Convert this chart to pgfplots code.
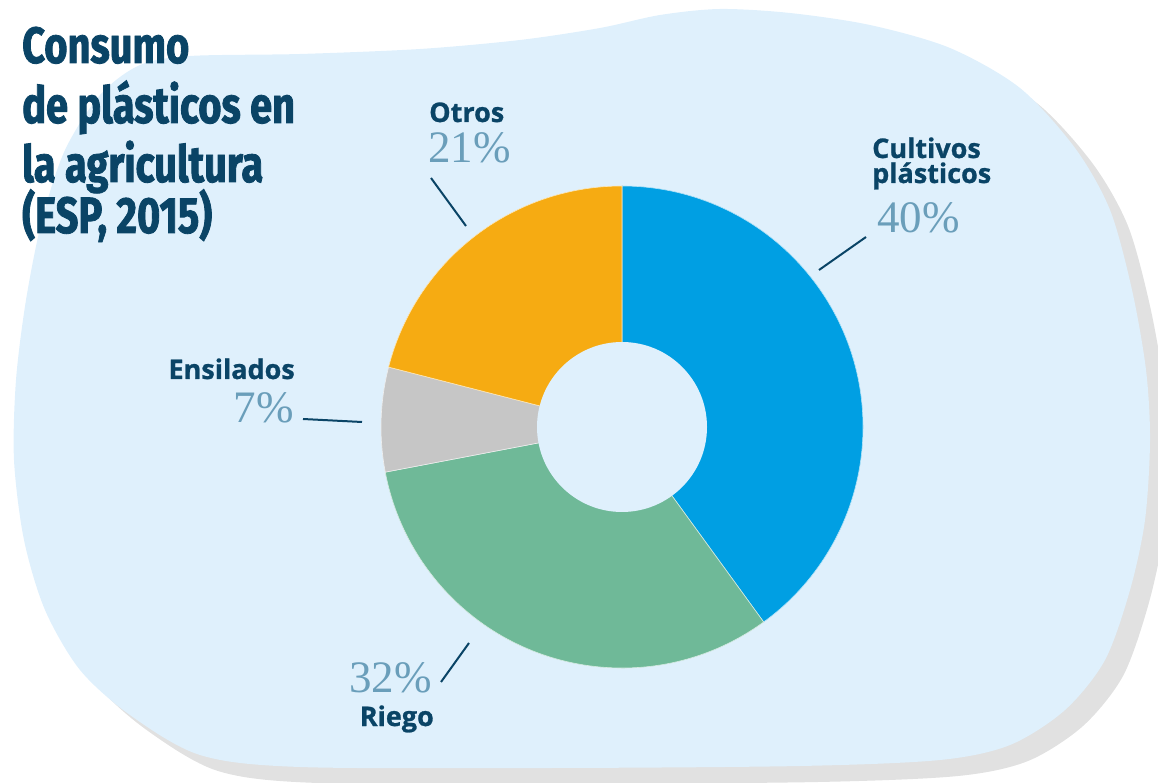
\documentclass[border=0pt]{standalone}
\usepackage{pgfplots}
\pgfplotsset{compat=1.18}
\usepackage{pgfplotstable}
\usepackage{fontspec}
\usetikzlibrary{calc}
\newfontfamily\titlefont[FakeStretch=0.78, FakeBold=1.6]{Fira Sans}
\newfontfamily\labelfont[FakeBold=0.9]{Open Sans}
\newfontfamily\pctfont{Liberation Serif}
\definecolor{navy}{HTML}{0A4466}
\definecolor{pct}{HTML}{6A9EBA}
\definecolor{cblue}{HTML}{009FE3}
\definecolor{cgreen}{HTML}{6FB998}
\definecolor{cgray}{HTML}{C6C6C6}
\definecolor{corange}{HTML}{F6AB12}
\definecolor{blob}{HTML}{DFF0FC}
\definecolor{shadow}{HTML}{E1E1E1}

\pgfplotstableread{
label value
Cultivos 40
Riego 32
Ensilados 7
Otros 21
}\datatable
\pgfplotstablegetelem{0}{value}\of\datatable \let\va\pgfplotsretval
\pgfplotstablegetelem{1}{value}\of\datatable \let\vb\pgfplotsretval
\pgfplotstablegetelem{2}{value}\of\datatable \let\vc\pgfplotsretval
\pgfplotstablegetelem{3}{value}\of\datatable \let\vd\pgfplotsretval
\pgfmathsetmacro\aA{90}
\pgfmathsetmacro\aB{\aA-3.6*\va}
\pgfmathsetmacro\aC{\aB-3.6*\vb}
\pgfmathsetmacro\aD{\aC-3.6*\vc}
\pgfmathsetmacro\dA{-3.6*\va}
\pgfmathsetmacro\dB{-3.6*\vb}
\pgfmathsetmacro\dC{-3.6*\vc}
\pgfmathsetmacro\dD{-3.6*\vd}

\def\blobpts{(190,726) (300,728) (420,733) (520,742) (600,754) (660,767) (720,773) (790,769) (870,757) (950,734) (1020,694) (1075,634) (1110,572) (1132,492) (1146,412) (1150,342) (1145,262) (1130,192) (1105,122) (1065,72) (1010,37) (940,22) (800,16) (550,14) (300,15) (200,27) (130,67) (80,112) (45,172) (24,242) (14,322) (16,402) (26,482) (42,562) (65,632) (100,687) (140,717)}

\tikzset{lab/.style={inner sep=0pt, text=navy, font=\labelfont\bfseries\fontsize{27}{31}\selectfont},
  pc/.style={inner sep=0pt, text=pct, font=\pctfont\fontsize{45}{50}\selectfont},
  ttl/.style={anchor=base west, inner sep=0pt, text=navy, font=\titlefont\bfseries\fontsize{51}{56}\selectfont}}

\begin{document}
\begin{tikzpicture}
\begin{axis}[x=1pt,y=1pt,xmin=0,xmax=1158,ymin=0,ymax=782,
  hide axis, clip=true, scale only axis]
% shadow and blob
\addplot[fill=shadow, draw=none, smooth cycle, tension=0.5, xshift=18pt, yshift=-16pt] coordinates {\blobpts};
\addplot[fill=blob, draw=none, smooth cycle, tension=0.5] coordinates {\blobpts};
% donut
\fill[cblue, draw=white!70!cblue, line width=0.6pt] (axis cs:622,355) -- ++(\aA:241pt) arc[start angle=\aA, delta angle=\dA, radius=241pt] -- cycle;
\fill[cgreen, draw=white!70!cgreen, line width=0.6pt] (axis cs:622,355) -- ++(\aB:241pt) arc[start angle=\aB, delta angle=\dB, radius=241pt] -- cycle;
\fill[cgray, draw=white!70!cgray, line width=0.6pt] (axis cs:622,355) -- ++(\aC:241pt) arc[start angle=\aC, delta angle=\dC, radius=241pt] -- cycle;
\fill[corange, draw=white!70!corange, line width=0.6pt] (axis cs:622,355) -- ++(\aD:241pt) arc[start angle=\aD, delta angle=\dD, radius=241pt] -- cycle;
\fill[blob] (axis cs:622,355) circle[radius=85pt];
% leader lines
\draw[navy, line width=2pt] (axis cs:431,604) -- (axis cs:466,556);
\draw[navy, line width=2pt] (axis cs:866,545) -- (axis cs:819,512);
\draw[navy, line width=2pt] (axis cs:303,363) -- (axis cs:362,360);
\draw[navy, line width=2pt] (axis cs:441,100) -- (axis cs:469,139);
% labels
\node[lab, anchor=base west] at (axis cs:429,660) {Otros};
\node[pc, anchor=base west] at (axis cs:428,619) {21\%};
\node[lab, anchor=base west] at (axis cs:872,624) {Cultivos};
\node[lab, anchor=base west] at (axis cs:872,599) {plásticos};
\node[pc, anchor=base west] at (axis cs:877,549) {40\%};
\node[lab, anchor=base east] at (axis cs:295,403) {Ensilados};
\node[pc, anchor=base east] at (axis cs:294,359) {7\%};
\node[pc, anchor=base east] at (axis cs:432,90) {32\%};
\node[lab, anchor=base east] at (axis cs:434,56) {Riego};
% title
\node[ttl] at (axis cs:22,719) {Consumo};
\node[ttl] at (axis cs:22,659) {de plásticos en};
\node[ttl] at (axis cs:22,600) {la agricultura};
\node[ttl] at (axis cs:22,549) {(ESP, 2015)};
\end{axis}
\pgfresetboundingbox
\path (current axis.south west) rectangle (current axis.north east);
\end{tikzpicture}
\end{document}
